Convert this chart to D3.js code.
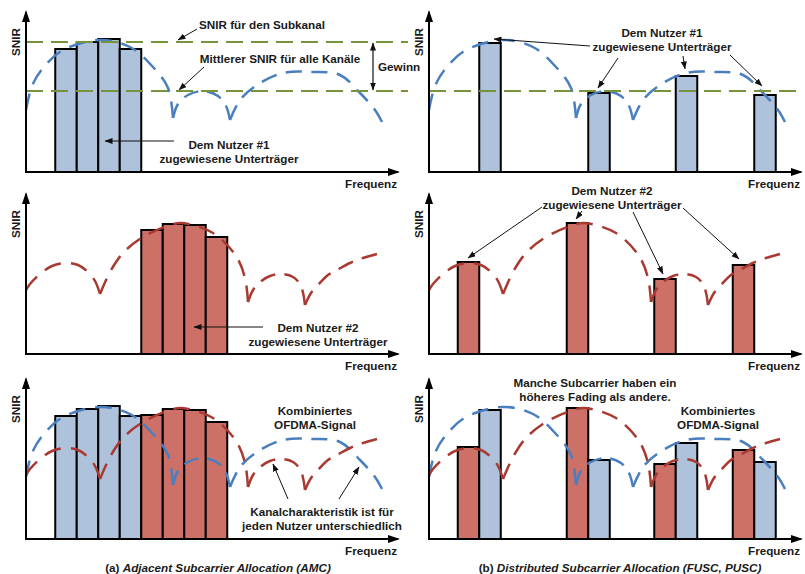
<!DOCTYPE html>
<html>
<head>
<meta charset="utf-8">
<script src="https://cdn.jsdelivr.net/npm/d3@7"></script>
<style>
  body { margin: 0; background: #fff; }
  text { font-family: "Liberation Sans", Arial, sans-serif; font-weight: bold; font-size: 11.7px; fill: #1a1a1a; }
</style>
</head>
<body>
<svg id="chart" width="805" height="574"></svg>
<script>
// channel SNIR of each user, one list of [frequency, SNIR] per arc between two fading dips
const user1Channel = [
  [[0, 62], [6, 86], [17, 104], [37, 122], [74, 132], [104, 125], [127, 105], [142, 84], [147, 54]],
  [[147, 54], [152, 68], [162, 77], [177, 81], [192, 76], [200, 66], [204, 52]],
  [[204, 52], [214, 72], [231, 87], [257, 99], [287, 100], [314, 97], [334, 79], [349, 62], [356, 50]]
];
const user2Channel = [
  [[0, 64], [4, 70], [14, 80], [26, 88], [39, 91], [52, 89], [62, 82], [69, 73], [74, 60]],
  [[74, 60], [84, 82], [97, 101], [117, 117], [144, 129], [156, 131], [187, 121], [210, 98], [219, 76], [222, 52]],
  [[222, 52], [227, 64], [234, 72], [244, 78], [255, 80], [267, 77], [275, 68], [279, 49]],
  [[279, 49], [285, 61], [292, 69], [302, 79], [311, 84], [324, 91], [337, 96], [351, 100]]
];

// allocated subcarriers: frequency and SNIR
const amcUser1Freq = [40, 61.5, 83, 104.5];
const amcUser1Snir = [123, 130, 133, 123];
const amcUser2Freq = [126, 147.5, 169, 190.5];
const amcUser2Snir = [124, 130, 129, 117];
const fuscUser1Freq = [61, 170, 257.5, 336];
const fuscUser1Snir = [129, 79, 96, 77];
const fuscUser2Freq = [39.5, 148.5, 236, 314.5];
const fuscUser2Snir = [92, 131, 75, 89];
const subcarrierSpacing = 21.5;

const subchannelSnir = 130;
const meanSnir = 81;

const colors = {
  1: { bar: '#aec2db', line: '#4a7fbf' },
  2: { bar: '#cc7068', line: '#a93a32' }
};
const green = '#77933c';

const colX = [26, 429];
const rowY = [172, 354, 539];

const svg = d3.select('#chart');
const defs = svg.append('defs');
defs.append('marker')
  .attr('id', 'axisHead')
  .attr('viewBox', '0 0 12 8')
  .attr('refX', 10).attr('refY', 4)
  .attr('markerWidth', 12).attr('markerHeight', 8)
  .attr('markerUnits', 'userSpaceOnUse')
  .attr('orient', 'auto')
  .append('path').attr('d', 'M0,0L12,4L0,8Z').attr('fill', '#000');
defs.append('marker')
  .attr('id', 'noteHead')
  .attr('viewBox', '0 0 8 6')
  .attr('refX', 7.5).attr('refY', 3)
  .attr('markerWidth', 8).attr('markerHeight', 6)
  .attr('markerUnits', 'userSpaceOnUse')
  .attr('orient', 'auto-start-reverse')
  .append('path').attr('d', 'M0,0L8,3L0,6Z').attr('fill', '#111');

const panels = [
  { col: 0, row: 0, bars: [[1, amcUser1Freq, amcUser1Snir]], channels: [1], levels: [subchannelSnir, meanSnir], levelEnd: 382 },
  { col: 1, row: 0, bars: [[1, fuscUser1Freq, fuscUser1Snir]], channels: [1], levels: [meanSnir], levelEnd: 371 },
  { col: 0, row: 1, bars: [[2, amcUser2Freq, amcUser2Snir]], channels: [2], levels: [] },
  { col: 1, row: 1, bars: [[2, fuscUser2Freq, fuscUser2Snir]], channels: [2], levels: [] },
  { col: 0, row: 2, bars: [[1, amcUser1Freq, amcUser1Snir], [2, amcUser2Freq, amcUser2Snir]], channels: [1, 2], levels: [] },
  { col: 1, row: 2, bars: [[2, fuscUser2Freq, fuscUser2Snir], [1, fuscUser1Freq, fuscUser1Snir]], channels: [1, 2], levels: [] }
];

function fitDash(node, dash, gap) {
  const L = node.getTotalLength();
  const n = Math.max(1, Math.round((L + gap) / (dash + gap)));
  const s = L / (n * dash + (n - 1) * gap);
  return `${dash * s} ${gap * s}`;
}

panels.forEach(p => {
  const x0 = colX[p.col], y0 = rowY[p.row];
  const x = d3.scaleLinear().domain([0, 374]).range([x0, x0 + 374]);
  const y = d3.scaleLinear().domain([0, 162]).range([y0, y0 - 162]);
  const g = svg.append('g');
  const bw = x(subcarrierSpacing) - x(0);

  // bars
  p.bars.forEach(([user, freq, snir]) => {
    g.append('g').selectAll('rect')
      .data(freq.map((f, i) => ({ f, v: snir[i] })))
      .join('rect')
      .attr('x', d => x(d.f) - bw / 2)
      .attr('y', d => y(d.v))
      .attr('width', bw)
      .attr('height', d => y(0) - y(d.v))
      .attr('fill', colors[user].bar)
      .attr('stroke', '#000')
      .attr('stroke-width', 2);
  });

  // channel curves
  const line = d3.line()
    .x(d => x(d[0]))
    .y(d => y(d[1]))
    .curve(d3.curveCatmullRom.alpha(0.5));
  p.channels.forEach(user => {
    const arcs = user === 1 ? user1Channel : user2Channel;
    arcs.forEach(arc => {
      const path = g.append('path')
        .attr('d', line(arc))
        .attr('fill', 'none')
        .attr('stroke', colors[user].line)
        .attr('stroke-width', 2.5);
      path.attr('stroke-dasharray', fitDash(path.node(), 17, 10));
    });
  });

  // SNIR levels
  g.selectAll('line.level')
    .data(p.levels)
    .join('line')
    .attr('class', 'level')
    .attr('x1', x(0)).attr('x2', x(p.levelEnd || 0))
    .attr('y1', d => y(d)).attr('y2', d => y(d))
    .attr('stroke', green)
    .attr('stroke-width', 2)
    .attr('stroke-dasharray', '17 8');

  // axes
  const xAxis = g.append('g')
    .attr('transform', `translate(0,${y0})`)
    .call(d3.axisBottom(x).tickValues([]).tickSizeOuter(0));
  xAxis.select('.domain')
    .attr('d', `M${x0 - 1},0H${x0 + 372}`)
    .attr('stroke-width', 2)
    .attr('marker-end', 'url(#axisHead)');
  const yAxis = g.append('g')
    .attr('transform', `translate(${x0},0)`)
    .call(d3.axisLeft(y).tickValues([]).tickSizeOuter(0));
  yAxis.select('.domain')
    .attr('d', `M0,${y0 + 1}V${y0 - 160}`)
    .attr('stroke-width', 2)
    .attr('marker-end', 'url(#axisHead)');

  g.append('text')
    .attr('x', x0 + 371).attr('y', y0 + 16)
    .attr('text-anchor', 'end')
    .text('Frequenz');
  g.append('text')
    .attr('transform', `translate(${x0 - 6},${y0 - 130}) rotate(-90)`)
    .attr('text-anchor', 'middle')
    .text('SNIR');
});

// annotations
const notes = [
  { x: 262, y: 29, lines: ['SNIR für den Subkanal'] },
  { x: 280, y: 63, lines: ['Mittlerer SNIR für alle Kanäle'] },
  { x: 378, y: 71, lines: ['Gewinn'], anchor: 'start' },
  { x: 229, y: 149, lines: ['Dem Nutzer #1', 'zugewiesene Unterträger'] },
  { x: 662, y: 37, lines: ['Dem Nutzer #1', 'zugewiesene Unterträger'] },
  { x: 318, y: 332, lines: ['Dem Nutzer #2', 'zugewiesene Unterträger'] },
  { x: 612, y: 195, lines: ['Dem Nutzer #2', 'zugewiesene Unterträger'] },
  { x: 315, y: 415, lines: ['Kombiniertes', 'OFDMA-Signal'] },
  { x: 322, y: 516, lines: ['Kanalcharakteristik ist für', 'jeden Nutzer unterschiedlich'] },
  { x: 595, y: 387, lines: ['Manche Subcarrier haben ein', 'höheres Fading als andere.'] },
  { x: 718, y: 415, lines: ['Kombiniertes', 'OFDMA-Signal'] }
];
notes.forEach(n => {
  const t = svg.append('text')
    .attr('x', n.x).attr('y', n.y)
    .attr('text-anchor', n.anchor || 'middle');
  n.lines.forEach((s, i) => {
    t.append('tspan').attr('x', n.x).attr('dy', i === 0 ? 0 : 14).text(s);
  });
});

const pointers = [
  [197, 29, 178, 40], [204, 67, 179, 90], [174, 141, 105, 141],
  [590, 46, 494, 39], [618, 58, 598, 88], [683, 56, 685, 69], [730, 55, 762, 86],
  [263, 327, 194, 327],
  [542, 207, 468, 258], [582, 211, 576, 219], [633, 212, 663, 274], [683, 208, 739, 259],
  [288, 499, 273, 464], [339, 499, 359, 467]
];
svg.append('g').selectAll('line')
  .data(pointers)
  .join('line')
  .attr('x1', d => d[0]).attr('y1', d => d[1])
  .attr('x2', d => d[2]).attr('y2', d => d[3])
  .attr('stroke', '#111')
  .attr('stroke-width', 1)
  .attr('marker-end', 'url(#noteHead)');

// gain between the two levels
svg.append('line')
  .attr('x1', 373).attr('x2', 373)
  .attr('y1', 43).attr('y2', 90)
  .attr('stroke', '#111')
  .attr('stroke-width', 1.2)
  .attr('marker-start', 'url(#noteHead)')
  .attr('marker-end', 'url(#noteHead)');

// captions
const captions = [
  { x: 218, lead: '(a) ', title: 'Adjacent Subcarrier Allocation (AMC)' },
  { x: 620, lead: '(b) ', title: 'Distributed Subcarrier Allocation (FUSC, PUSC)' }
];
captions.forEach(c => {
  const t = svg.append('text').attr('x', c.x).attr('y', 572).attr('text-anchor', 'middle');
  t.append('tspan').text(c.lead);
  t.append('tspan').attr('font-style', 'italic').text(c.title);
});
</script>
</body>
</html>
